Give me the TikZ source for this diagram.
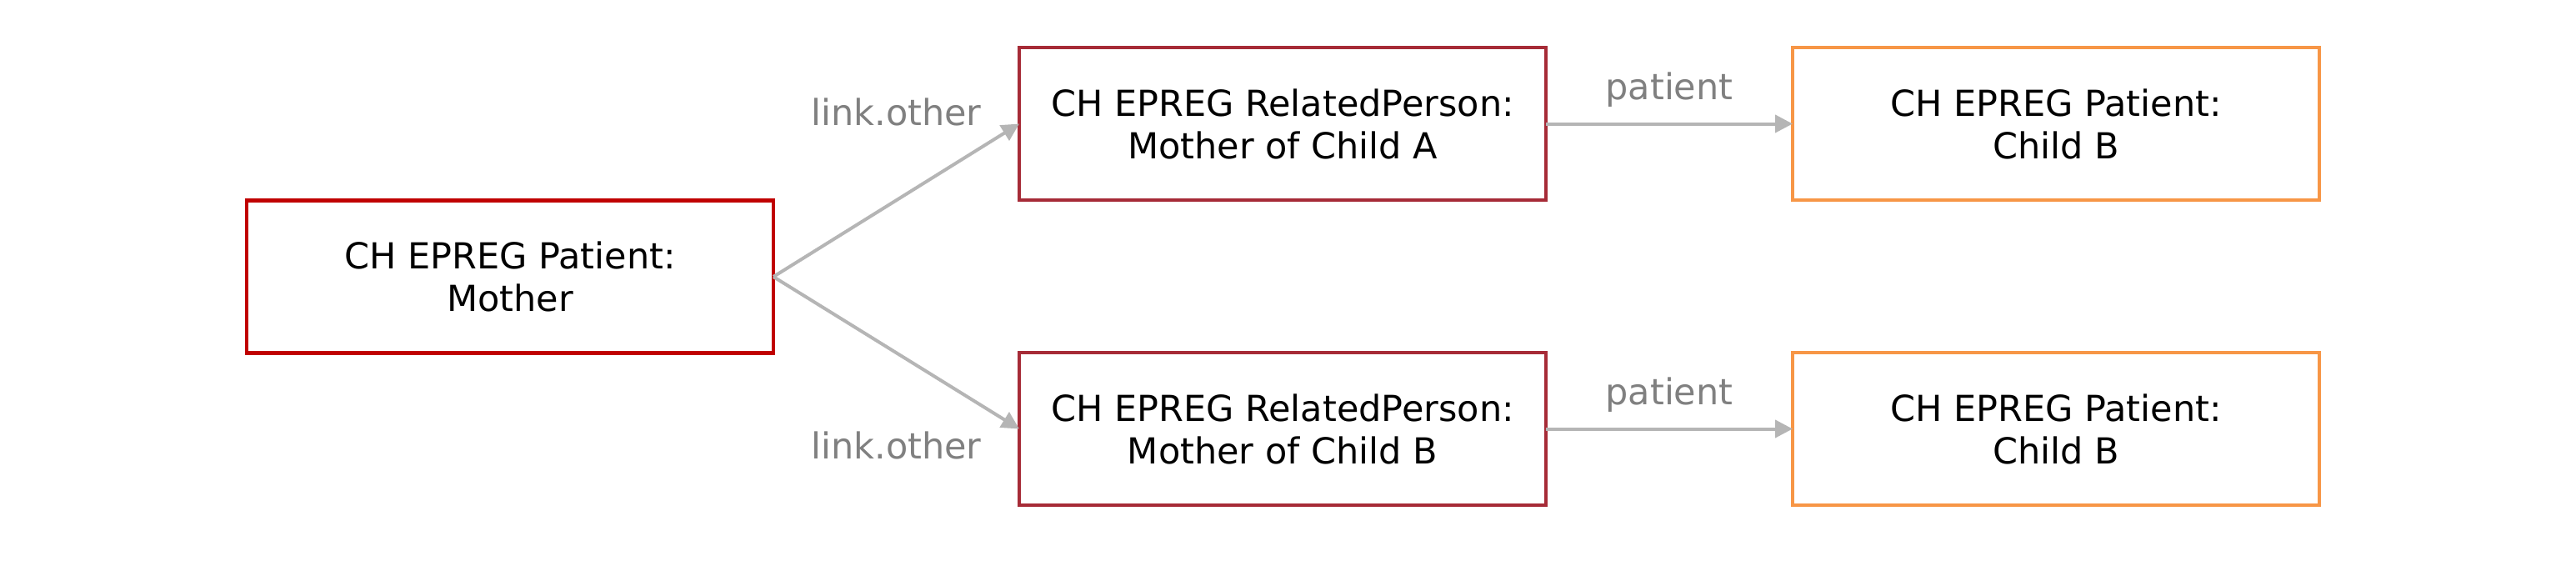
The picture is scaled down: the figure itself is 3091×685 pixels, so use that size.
\documentclass[tikz,border=0pt]{standalone}
\usepackage{fontspec}
\setmainfont{DejaVu Sans}
\usetikzlibrary{arrows.meta,calc}
\definecolor{motherred}{HTML}{C00000}
\definecolor{relred}{HTML}{A62B37}
\definecolor{childorange}{HTML}{F79646}
\definecolor{arrowgray}{HTML}{B5B5B5}
\definecolor{labelgray}{HTML}{808080}
\begin{document}
\begin{tikzpicture}[x=0.5pt,y=-0.5pt,
  box/.style={draw, line width=2.25pt, fill=white, minimum width=316pt, minimum height=91.5pt,
    inner sep=0pt, outer sep=0pt, align=center, text=black,
    font=\fontsize{21.5pt}{25.5pt}\selectfont},
  motherbox/.style={box, draw=motherred},
  relbox/.style={box, draw=relred},
  childbox/.style={box, draw=childorange},
  conn/.style={draw=arrowgray, line width=2pt, -{Triangle[length=10.5pt,width=10.5pt]}},
  lbl/.style={text=labelgray, inner sep=0pt, font=\fontsize{21.5pt}{25.5pt}\selectfont}]
\useasboundingbox (0,0) rectangle (3091,685);
\node[motherbox] (M) at (612,332) {CH EPREG Patient:\\Mother};
\node[relbox] (A) at (1539,148.5) {CH EPREG RelatedPerson:\\Mother of Child A};
\node[relbox] (B) at (1539,514.5) {CH EPREG RelatedPerson:\\Mother of Child B};
\node[childbox] (CA) at (2467,148.5) {CH EPREG Patient:\\Child B};
\node[childbox] (CB) at (2467,514.5) {CH EPREG Patient:\\Child B};
\draw[conn] (M.east) -- (A.west);
\draw[conn] (M.east) -- (B.west);
\draw[conn] (A.east) -- (CA.west);
\draw[conn] (B.east) -- (CB.west);
\node[lbl, anchor=base east] (L1) at ($(A.west)+(-45,1.5)$) {link.other};
\node[lbl, anchor=base east] (L2) at ($(B.west)+(-45,35.5)$) {link.other};
\node[lbl, anchor=base] (P1) at ($(A.east)!0.5!(CA.west)+(0,-29.5)$) {patient};
\node[lbl, anchor=base] (P2) at ($(B.east)!0.5!(CB.west)+(0,-29.5)$) {patient};
\end{tikzpicture}
\end{document}
